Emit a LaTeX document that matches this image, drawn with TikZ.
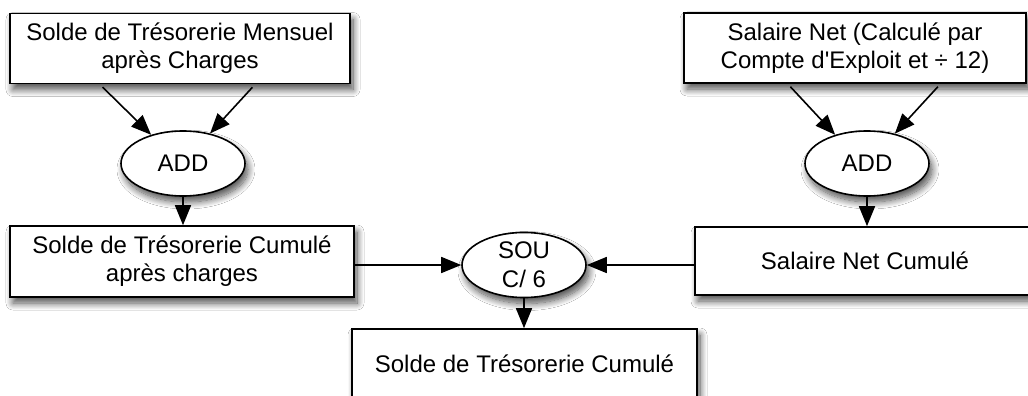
\documentclass[tikz,border=0pt]{standalone}
\usepackage{fontspec}
\setmainfont{Liberation Sans}[Ligatures=TeXOff]
\usetikzlibrary{shapes.geometric,arrows.meta,shadows.blur}
\tikzset{
  myshadow/.style={blur shadow={shadow xshift=3pt,shadow yshift=-6pt,shadow blur radius=7pt,shadow blur steps=12,shadow opacity=70}},
  boxnode/.style={draw=black,line width=1.6pt,fill=white,rectangle,inner sep=0pt,align=center,
    font=\fontsize{24pt}{28pt}\selectfont,myshadow},
  opnode/.style={draw=black,line width=1.6pt,fill=white,ellipse,inner sep=0pt,align=center,
    minimum width=124pt,minimum height=65pt,font=\fontsize{24pt}{29pt}\selectfont,myshadow},
  conn/.style={line width=1.6pt,-{Triangle[length=20pt,width=16pt]}}
}
\begin{document}
\begin{tikzpicture}[x=1pt,y=-1pt]
\useasboundingbox (0,0) rectangle (1028,396);
\fill[white] (0,0) rectangle (1028,396);
\node[boxnode,minimum width=340pt,minimum height=70pt] (A) at (180,48.5) {Solde de Trésorerie Mensuel\\après Charges};
\node[boxnode,minimum width=342pt,minimum height=70pt] (D) at (855,48) {Salaire Net (Calculé par\\Compte d'Exploit et ÷ 12)};
\node[opnode] (addL) at (183,163.5) {ADD};
\node[opnode] (addR) at (867,163.5) {ADD};
\node[boxnode,minimum width=344pt,minimum height=71pt] (B) at (182,261.5) {Solde de Trésorerie Cumulé\\après charges};
\node[boxnode,minimum width=340pt,minimum height=68pt] (C) at (865,261) {Salaire Net Cumulé};
\node[opnode,minimum height=64pt] (sou) at (524,265) {SOU\\C/ 6};
\node[boxnode,minimum width=345pt,minimum height=70pt] (E) at (524.5,364) {Solde de Trésorerie Cumulé};
\draw[conn,shorten <=4pt] ($(A.south west)!0.265!(A.south east)$) -- (addL.138);
\draw[conn,shorten <=4pt] ($(A.south west)!0.72!(A.south east)$) -- (addL.48);
\draw[conn,shorten <=4pt] ($(D.south west)!0.304!(D.south east)$) -- (addR.138);
\draw[conn,shorten <=4pt] ($(D.south west)!0.749!(D.south east)$) -- (addR.47);
\draw[conn] (addL) -- (addL |- B.north);
\draw[conn] (addR) -- (addR |- C.north);
\draw[conn] (B.east |- sou) -- (sou.west);
\draw[conn] (C.west |- sou) -- (sou.east);
\draw[conn] (sou) -- (sou |- E.north);
\end{tikzpicture}
\end{document}
